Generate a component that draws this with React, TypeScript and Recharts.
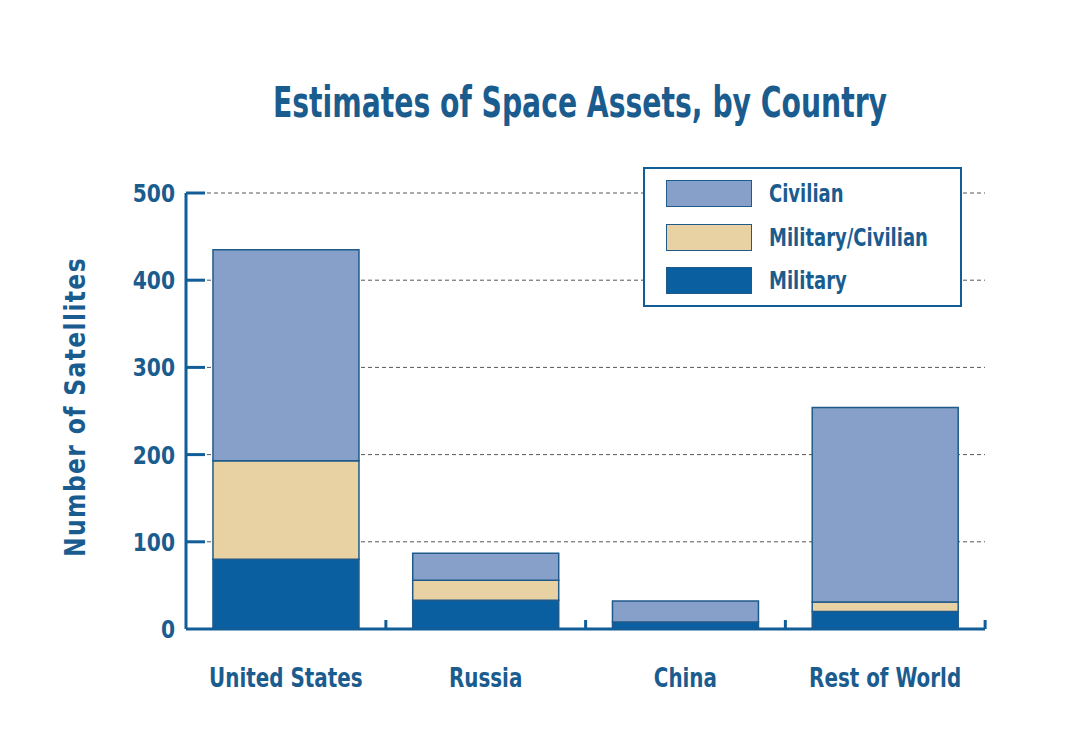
import React from 'react';
import { BarChart, Bar, XAxis, YAxis, CartesianGrid } from 'recharts';

const categories = ['United States', 'Russia', 'China', 'Rest of World'];
const military = [80, 33, 8, 20];
const militaryCivilian = [113, 23, 0, 11];
const civilian = [242, 31, 24, 223];
const yTicks = [0, 100, 200, 300, 400, 500];

const seriesNames = ['Military', 'Military/Civilian', 'Civilian'];
const seriesKeys = ['military', 'milciv', 'civilian'];
const seriesColors = ['#0a5fa1', '#e8d1a3', '#86a0c9'];

const TEXT = '#1b5c8f';
const AXIS = '#105d98';
const FONT = "'DejaVu Sans Condensed', 'DejaVu Sans', sans-serif";

const data = categories.map((c, i) => ({
  name: c,
  military: military[i],
  milciv: militaryCivilian[i],
  civilian: civilian[i],
}));

const YTick = (props: any) => {
  const { x, y, payload } = props;
  return (
    <g>
      <text
        transform={`translate(${x}, ${y + 9}) scale(0.9, 1)`}
        textAnchor="end"
        fill={TEXT}
        fontSize={25}
        fontWeight="bold"
        fontFamily={FONT}
      >
        {payload.value}
      </text>
      {payload.value !== 0 && (
        <line x1={x + 11} x2={x + 30} y1={y} y2={y} stroke={AXIS} strokeWidth={3} />
      )}
    </g>
  );
};

const XTick = (props: any) => {
  const { x, y, payload } = props;
  return (
    <g>
      <text
        transform={`translate(${x}, ${y + 58}) scale(0.82, 1)`}
        textAnchor="middle"
        fill={TEXT}
        fontSize={27}
        fontWeight="bold"
        fontFamily={FONT}
      >
        {payload.value}
      </text>
      <line x1={x + 100} x2={x + 100} y1={y} y2={y - 9} stroke={AXIS} strokeWidth={3} />
    </g>
  );
};

const YLabel = (props: any) => {
  const vb = props.viewBox || {};
  const cx = (vb.x || 0) + 75;
  const cy = (vb.y || 0) + (vb.height || 0) / 2 - 4;
  return (
    <text
      transform={`translate(${cx}, ${cy}) rotate(-90) scale(0.9, 1)`}
      textAnchor="middle"
      dominantBaseline="central"
      fill={TEXT}
      fontSize={29}
      fontWeight="bold"
      fontFamily={FONT}
      letterSpacing={1.5}
    >
      Number of Satellites
    </text>
  );
};

const LegendBox = () => {
  const order = [2, 1, 0];
  return (
    <div
      style={{
        position: 'absolute',
        left: 643,
        top: 167,
        width: 315,
        height: 136,
        border: `2px solid ${AXIS}`,
        background: '#fff',
        boxSizing: 'content-box',
      }}
    >
      {order.map((idx, r) => (
        <div
          key={seriesKeys[idx]}
          style={{ position: 'absolute', left: 21, top: 11 + r * 43.5, display: 'flex', alignItems: 'center' }}
        >
          <div
            style={{
              width: 86,
              height: 27,
              background: seriesColors[idx],
              border: '1.5px solid #1f5a8a',
              boxSizing: 'border-box',
            }}
          />
          <span
            style={{
              marginLeft: 17,
              color: TEXT,
              fontFamily: FONT,
              fontWeight: 'bold',
              fontSize: 25,
              lineHeight: '27px',
              display: 'inline-block',
              transform: 'scaleX(0.8)',
              transformOrigin: 'left center',
              whiteSpace: 'nowrap',
            }}
          >
            {seriesNames[idx]}
          </span>
        </div>
      ))}
    </div>
  );
};

export default function App() {
  return (
    <div style={{ position: 'absolute', left: 0, top: 0, width: 1071, height: 734, background: '#fff', overflow: 'hidden' }}>
      <div
        style={{
          position: 'absolute',
          left: -20,
          width: 1200,
          top: 76,
          textAlign: 'center',
          color: TEXT,
          fontFamily: FONT,
          fontWeight: 'bold',
          fontSize: 43,
          lineHeight: '52px',
          transform: 'scaleX(0.73)',
          transformOrigin: '600px 50%',
          whiteSpace: 'nowrap',
        }}
      >
        Estimates of Space Assets, by Country
      </div>
      <div style={{ position: 'absolute', left: 0, top: 0 }}>
        <BarChart
          width={1071}
          height={734}
          data={data}
          margin={{ top: 193, right: 86, bottom: 45, left: 0 }}
          barCategoryGap="13.5%"
        >
          <CartesianGrid vertical={false} stroke="#555" strokeDasharray="4 3" strokeWidth={1} />
          <XAxis
            dataKey="name"
            height={60}
            tickSize={0}
            tickMargin={0}
            tickLine={false}
            axisLine={{ stroke: AXIS, strokeWidth: 3 }}
            tick={<XTick />}
            interval={0}
          />
          <YAxis
            width={186}
            domain={[0, 500]}
            ticks={yTicks}
            tickSize={0}
            tickMargin={11}
            tickLine={false}
            axisLine={{ stroke: AXIS, strokeWidth: 3 }}
            tick={<YTick />}
            interval={0}
            label={{ content: <YLabel /> }}
          />
          {seriesKeys.map((k, i) => (
            <Bar
              key={k}
              dataKey={k}
              name={seriesNames[i]}
              stackId="a"
              fill={seriesColors[i]}
              stroke="#1f5a8a"
              strokeWidth={1.5}
              isAnimationActive={false}
            />
          ))}
        </BarChart>
      </div>
      <LegendBox />
    </div>
  );
}
